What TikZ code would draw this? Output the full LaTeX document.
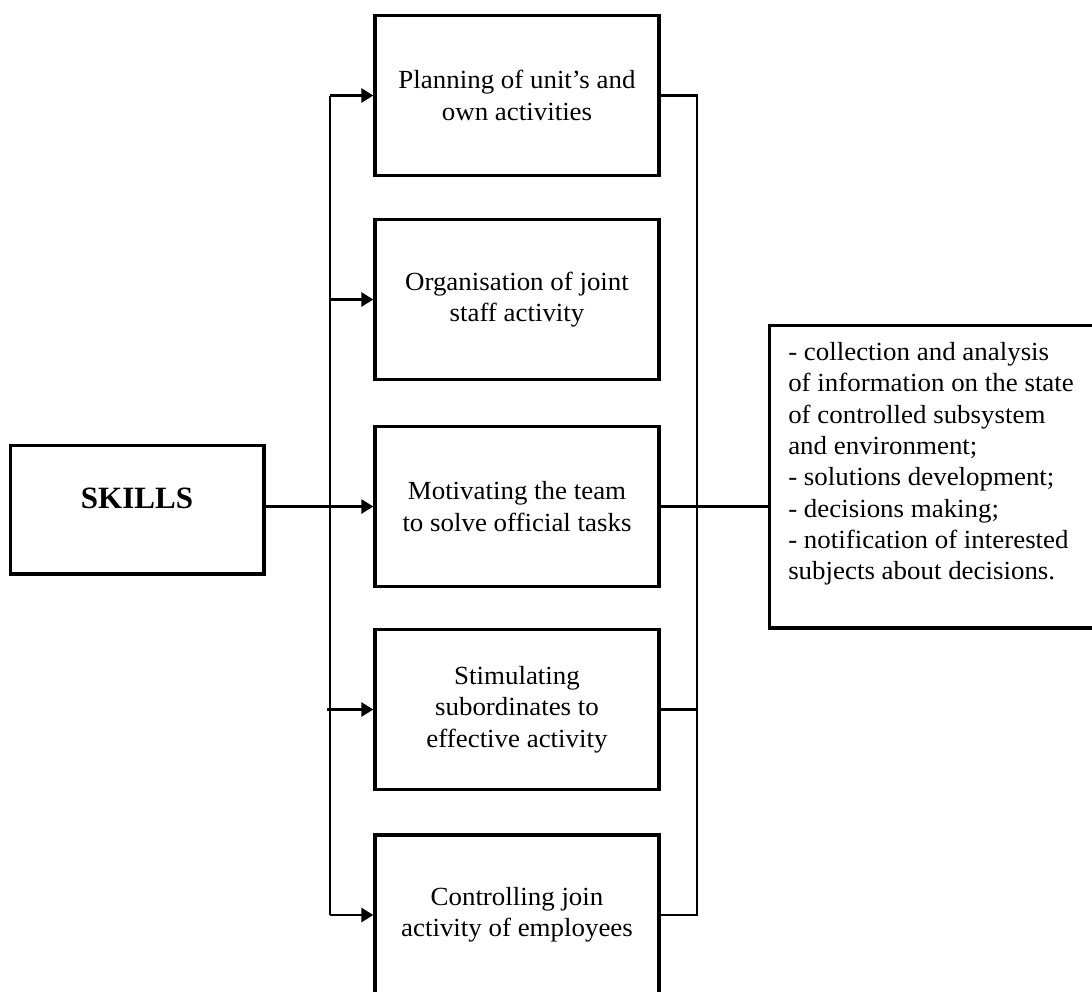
\documentclass[tikz,border=0pt]{standalone}
\usepackage{fontspec}
\setmainfont{Liberation Serif}[FakeStretch=1.03]
\newfontfamily\skillsfont{Liberation Serif}
\usetikzlibrary{arrows.meta}
\begin{document}
\begin{tikzpicture}[x=0.75pt,y=-0.75pt,
  txt/.style={font=\fontsize{19.6}{23.5}\selectfont},
  box/.style={draw, line width=2.5pt, minimum width=213pt, minimum height=120pt,
    align=center, txt, inner sep=0pt},
  conn/.style={line width=2.1pt},
  vline/.style={line width=1.8pt},
  arrow/.style={conn, -{Triangle[length=9pt,width=10.5pt]}}]
\useasboundingbox (0,0) rectangle (1092,992);
\clip (0,0) rectangle (1092,992);

% SKILLS box
\node[draw, line width=2.5pt, minimum width=190pt, minimum height=96.5pt] (sk) at (137.25,509.75) {};
\node[font=\skillsfont\bfseries\fontsize{23.25}{28}\selectfont, inner sep=0pt] (skt) at (137,498) {SKILLS};

% middle boxes
\node[box] (b1) at (517,95.5) {Planning of unit’s and\\own activities};
\node[box] (b2) at (517,299.5) {Organisation of joint\\staff activity};
\node[box] (b3) at (517,506.5) {Motivating the team\\to solve official tasks};
\node[box] (b4) at (517,709.5) {Stimulating\\subordinates to\\effective activity};
\node[box] (b5) at (517,915) {Controlling join\\activity of employees};

% right info box
\node[draw, line width=2.5pt, minimum width=248pt, minimum height=227pt] (info) at (934.75,476.75) {};
\node[txt, align=left, anchor=north west, inner sep=0pt] (infot) at (788,342)
  {- collection and analysis\\of information on the state\\of controlled subsystem\\and environment;\\- solutions development;\\- decisions making;\\- notification of interested\\subjects about decisions.};

% left bus
\coordinate (L) at (330,0);
\draw[vline] (L |- b1.west) -- (L |- b5.west);
\draw[arrow] (L |- b1.west) -- (b1.west);
\draw[arrow] (L |- b2.west) -- (b2.west);
\draw[arrow] ([xshift=-2.25pt]L |- b4.west) -- (b4.west);
\draw[arrow] (L |- b5.west) -- (b5.west);
\draw[arrow] (sk.east |- b3.west) -- (b3.west);

% right bus
\coordinate (R) at (697,0);
\draw[conn, line join=miter] (b1.east) -- (b1.east -| R) -- (b5.east -| R) -- (b5.east);
\draw[conn] (b4.east) -- (b4.east -| R);
\draw[vline] (b3.east) -- (b3.east -| info.west);
\end{tikzpicture}
\end{document}
